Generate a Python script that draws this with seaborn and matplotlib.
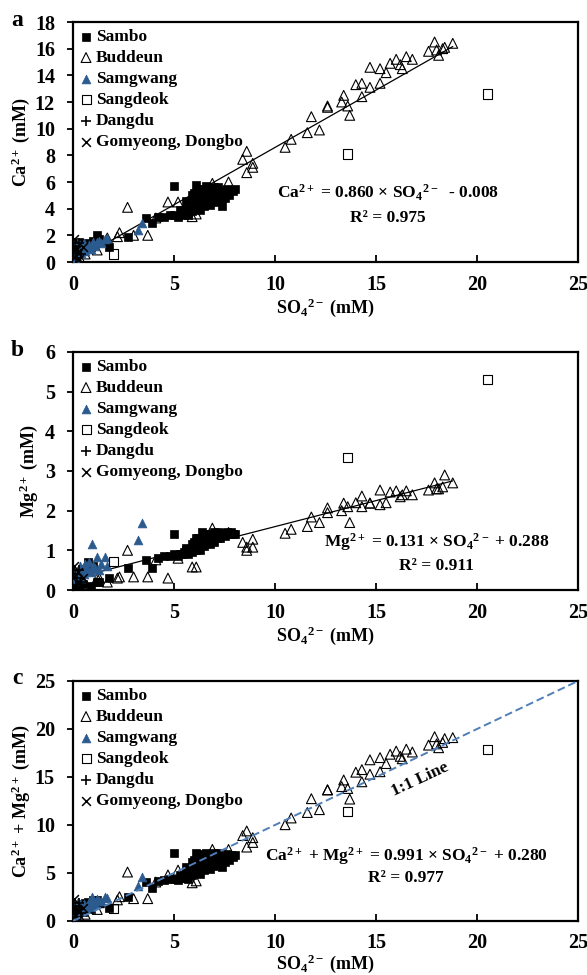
import matplotlib

matplotlib.use("Agg")

import matplotlib.pyplot as plt
import numpy as np
import pandas as pd
import seaborn as sns

# ---- data: SO4 (mM), Ca (mM), Mg (mM) per site ----
SAMBO_SO4 = [0.1, 0.2, 0.3, 0.4, 0.5, 0.6, 0.75, 0.9, 1.0, 1.2, 1.3, 1.8, 2.7, 3.6, 3.9,
             4.2, 4.5, 4.8, 5.0, 5.2, 5.4, 5.5, 5.7, 5.0, 5.3, 5.6, 5.8, 5.9, 6.0, 6.0,
             6.1, 6.2, 6.2, 6.3, 6.3, 6.4, 6.5, 6.5, 6.6, 6.6, 6.7, 6.8, 6.8, 6.9, 7.0,
             7.0, 7.1, 7.2, 7.3, 7.3, 7.4, 7.5, 7.5, 7.6, 7.7, 7.8, 7.9, 8.0, 5.6, 5.9,
             6.1, 6.4, 6.9, 7.2]
SAMBO_CA = [0.5, 1.0, 1.5, 1.2, 0.8, 1.4, 1.3, 1.1, 1.6, 2.0, 1.7, 1.1, 1.9, 3.3, 2.9,
            3.4, 3.4, 3.5, 3.5, 3.4, 3.6, 3.5, 3.5, 5.7, 3.9, 4.0, 4.3, 3.8, 4.6, 5.2,
            4.0, 5.5, 4.4, 5.0, 3.9, 4.7, 5.3, 4.2, 5.7, 4.5, 5.0, 4.3, 5.4, 4.8, 5.6,
            4.5, 5.1, 4.6, 5.4, 4.9, 4.2, 5.2, 4.8, 5.5, 5.0, 5.4, 5.3, 5.5, 4.6, 5.0,
            5.8, 5.5, 5.2, 5.6]
SAMBO_MG = [0.1, 0.2, 0.1, 0.3, 0.15, 0.5, 0.7, 0.1, 0.6, 0.2, 0.2, 0.3, 0.55, 0.76, 0.55,
            0.8, 0.85, 0.85, 0.9, 0.85, 0.9, 0.95, 0.9, 1.4, 0.9, 1.0, 1.0, 0.95, 1.1, 1.2,
            1.0, 1.3, 1.05, 1.2, 1.0, 1.15, 1.35, 1.1, 1.4, 1.2, 1.3, 1.15, 1.4, 1.25, 1.45,
            1.2, 1.35, 1.3, 1.4, 1.3, 1.43, 1.4, 1.35, 1.45, 1.4, 1.45, 1.4, 1.4, 1.05, 1.15,
            1.3, 1.45, 1.35, 1.45]

BUDDEUN_SO4 = [0.1, 0.3, 0.6, 1.2, 1.3, 1.7, 2.2, 2.3, 2.7, 3.0, 3.7, 4.1, 4.7, 5.2,
               5.9, 6.1, 6.9, 7.7, 8.4, 8.6, 8.9, 8.9, 8.6, 10.5, 10.8, 11.6, 11.8, 12.2,
               12.6, 12.6, 13.3, 13.4, 13.6, 13.7, 14.0, 14.3, 14.3, 14.7, 14.7, 15.2,
               15.2, 15.5, 15.7, 16.0, 16.2, 16.3, 16.5, 16.8, 17.6, 17.9, 18.0, 18.1,
               18.3, 18.4, 18.8]
BUDDEUN_CA = [0.1, 0.4, 0.6, 0.9, 1.6, 1.8, 1.9, 2.2, 4.1, 2.0, 2.0, 3.3, 4.5, 4.5,
              3.4, 3.6, 5.9, 6.0, 7.7, 8.3, 7.4, 7.1, 6.7, 8.6, 9.2, 9.7, 10.9, 9.9,
              11.6, 11.7, 12.0, 12.5, 11.7, 11.0, 13.3, 13.4, 12.4, 14.6, 13.1, 14.5,
              13.4, 14.2, 14.9, 15.2, 14.8, 14.5, 15.4, 15.2, 15.8, 16.5, 15.9, 15.5,
              16.0, 16.1, 16.4]
BUDDEUN_MG = [0.05, 0.1, 0.1, 0.3, 0.3, 0.2, 0.3, 0.33, 1.0, 0.33, 0.33, 0.76, 0.3, 0.8,
              0.58, 0.58, 1.56, 1.45, 1.2, 1.08, 1.28, 1.08, 1.0, 1.43, 1.53, 1.6, 1.84, 1.7,
              2.07, 1.95, 2.0, 2.19, 2.1, 1.7, 2.2, 2.37, 2.1, 2.19, 2.19, 2.52,
              2.15, 2.2, 2.47, 2.5, 2.35, 2.4, 2.5, 2.4, 2.52, 2.7, 2.55, 2.55,
              2.6, 2.9, 2.7]

SAMGWANG_SO4 = [0.1, 0.2, 0.25, 0.3, 0.35, 0.4, 0.5, 0.55, 0.6, 0.7, 0.8, 0.9, 0.94,
                1.0, 1.1, 1.2, 1.3, 1.4, 1.6, 1.7, 3.2, 3.4]
SAMGWANG_CA = [0.3, 0.6, 1.5, 0.9, 1.2, 0.7, 1.0, 1.4, 0.8, 1.1, 1.3, 1.0, 1.3,
               1.5, 1.2, 1.5, 1.6, 1.4, 1.7, 1.8, 2.4, 2.9]
SAMGWANG_MG = [0.2, 0.35, 0.5, 0.45, 0.6, 0.3, 0.55, 0.4, 0.65, 0.5, 0.7, 0.45, 1.16,
               0.6, 0.55, 0.83, 0.5, 0.65, 0.83, 0.6, 1.26, 1.69]

SANGDEOK_SO4 = [2.0, 13.6, 20.5]
SANGDEOK_CA = [0.6, 8.1, 12.6]
SANGDEOK_MG = [0.73, 3.33, 5.3]

DANGDU_SO4 = [0.1, 0.2, 0.3, 0.15, 0.4]
DANGDU_CA = [1.2, 0.8, 1.4, 0.3, 0.6]
DANGDU_MG = [0.4, 0.3, 0.5, 0.1, 0.2]

GOMYEONG_SO4 = [0.05, 0.1, 0.2, 0.3, 0.25, 0.5]
GOMYEONG_CA = [1.7, 0.4, 1.0, 0.2, 0.7, 1.1]
GOMYEONG_MG = [0.6, 0.1, 0.2, 0.05, 0.45, 0.3]

FIT_CA = (0.860, -0.008)
FIT_MG = (0.131, 0.288)

SAMGWANG_BLUE = "#2b5b8e"
LINE_BLUE = "#4f7fb8"

sites = [
    ("Sambo", SAMBO_SO4, SAMBO_CA, SAMBO_MG, dict(marker="s", s=32, color="black", edgecolor="black", linewidth=0.5)),
    ("Buddeun", BUDDEUN_SO4, BUDDEUN_CA, BUDDEUN_MG, dict(marker="^", s=50, color="black", facecolor="none", edgecolor="black", linewidth=0.8)),
    ("Samgwang", SAMGWANG_SO4, SAMGWANG_CA, SAMGWANG_MG, dict(marker="^", s=40, color=SAMGWANG_BLUE, edgecolor=SAMGWANG_BLUE, linewidth=0.5)),
    ("Sangdeok", SANGDEOK_SO4, SANGDEOK_CA, SANGDEOK_MG, dict(marker="s", s=42, color="black", facecolor="none", edgecolor="black", linewidth=0.8)),
    ("Dangdu", DANGDU_SO4, DANGDU_CA, DANGDU_MG, dict(marker="+", s=55, color="black", edgecolor="black", linewidth=1.2)),
    ("Gomyeong, Dongbo", GOMYEONG_SO4, GOMYEONG_CA, GOMYEONG_MG, dict(marker="x", s=40, color="black", edgecolor="black", linewidth=1.1)),
]

rows = []
for name, so4, ca, mg, _ in sites:
    for s, c, m in zip(so4, ca, mg):
        rows.append({"site": name, "so4": s, "ca": c, "mg": m, "camg": c + m})
df = pd.DataFrame(rows)

sns.set_theme(style="white")
plt.rcParams.update({
    "font.family": "Liberation Serif",
    "font.weight": "bold",
    "axes.labelweight": "bold",
    "mathtext.fontset": "custom",
    "mathtext.rm": "Liberation Serif:bold",
    "mathtext.it": "Liberation Serif:bold",
    "mathtext.bf": "Liberation Serif:bold",
    "axes.edgecolor": "black",
    "axes.linewidth": 1.5,
    "text.color": "black",
    "axes.labelcolor": "black",
    "xtick.color": "black",
    "ytick.color": "black",
})

fig = plt.figure(figsize=(5.87, 9.75), dpi=100)
W, H = 587, 975
left, right = 73, 578
panels = [
    ("a", 22, 262, "ca", r"Ca$^{2+}$ (mM)", (0, 18), 2, -0.082, -0.145),
    ("b", 352, 590, "mg", r"Mg$^{2+}$ (mM)", (0, 6), 1, -0.066, -0.145),
    ("c", 681, 921, "camg", r"Ca$^{2+}$ + Mg$^{2+}$ (mM)", (0, 25), 5, -0.082, -0.13),
]

leg_kw = dict(loc="upper left", frameon=False, fontsize=12.5, handlelength=0.7,
              handletextpad=0.2, labelspacing=0.28, borderpad=0.1, borderaxespad=0.3)

axes = {}
for letter, top, bottom, col, ylab, ylim, ystep, ylab_x, xlab_y in panels:
    ax = fig.add_axes([left / W, 1 - bottom / H, (right - left) / W, (bottom - top) / H])
    axes[letter] = ax
    for name, _, _, _, kw in sites:
        sub = df[df["site"] == name]
        sns.scatterplot(data=sub, x="so4", y=col, ax=ax, label=name, zorder=3, **kw)

    ax.set_xlim(0, 25)
    ax.set_ylim(*ylim)
    ax.set_xticks(np.arange(0, 26, 5))
    ax.set_yticks(np.arange(ylim[0], ylim[1] + 0.01, ystep))
    ax.tick_params(axis="x", direction="in", length=5, width=1.3, labelsize=14.5, pad=9, bottom=True)
    ax.tick_params(axis="y", direction="out", length=4, width=1.3, labelsize=14.5, pad=9, left=True)
    for sp in ax.spines.values():
        sp.set_linewidth(1.6)
        sp.set_color("black")
    ax.set_xlabel(r"SO$_4$$^{2-}$ (mM)", fontsize=13)
    ax.set_ylabel(ylab, fontsize=13)
    ax.xaxis.set_label_coords(0.5, xlab_y)
    ax.yaxis.set_label_coords(ylab_x, 0.5)
    ax.legend(**leg_kw)
    fig.text(0.03, 1 - (top - 2) / H, letter, fontsize=17, fontweight="bold", ha="center", va="center")

# fitted lines for a and b, 1:1 line for c
fit_x = np.array([0, max(BUDDEUN_SO4)])
sns.lineplot(x=fit_x, y=FIT_CA[0] * fit_x + FIT_CA[1], ax=axes["a"], color="black", linewidth=0.9, zorder=2)
sns.lineplot(x=fit_x, y=FIT_MG[0] * fit_x + FIT_MG[1], ax=axes["b"], color="black", linewidth=0.9, zorder=2)
one = np.array([0, 25])
sns.lineplot(x=one, y=one, ax=axes["c"], color=LINE_BLUE, linewidth=1.4, linestyle=(0, (4, 2)), zorder=4)

axes["a"].text(15.6, 5.2, r"Ca$^{2+}$ = 0.860 × SO$_4$$^{2-}$  - 0.008", ha="center", va="center", fontsize=12.5)
axes["a"].text(15.6, 3.3, "R² = 0.975", ha="center", va="center", fontsize=12.5)
axes["b"].text(18.0, 1.21, r"Mg$^{2+}$ = 0.131 × SO$_4$$^{2-}$ + 0.288", ha="center", va="center", fontsize=12.5)
axes["b"].text(18.0, 0.6, "R² = 0.911", ha="center", va="center", fontsize=12.5)
axes["c"].text(16.5, 6.8, r"Ca$^{2+}$ + Mg$^{2+}$ = 0.991 × SO$_4$$^{2-}$ + 0.280", ha="center", va="center", fontsize=12.5)
axes["c"].text(16.5, 4.5, "R² = 0.977", ha="center", va="center", fontsize=12.5)
axes["c"].text(17.2, 14.7, "1:1 Line", ha="center", va="center", fontsize=12.5, rotation=25)

# re-draw legends so the line plots do not add entries
for ax in axes.values():
    handles, labels = ax.get_legend_handles_labels()
    keep = [(h, l) for h, l in zip(handles, labels) if not l.startswith("_")][:6]
    ax.legend([h for h, _ in keep], [l for _, l in keep], **leg_kw)

fig.savefig("out.png", dpi=100, facecolor="white")
